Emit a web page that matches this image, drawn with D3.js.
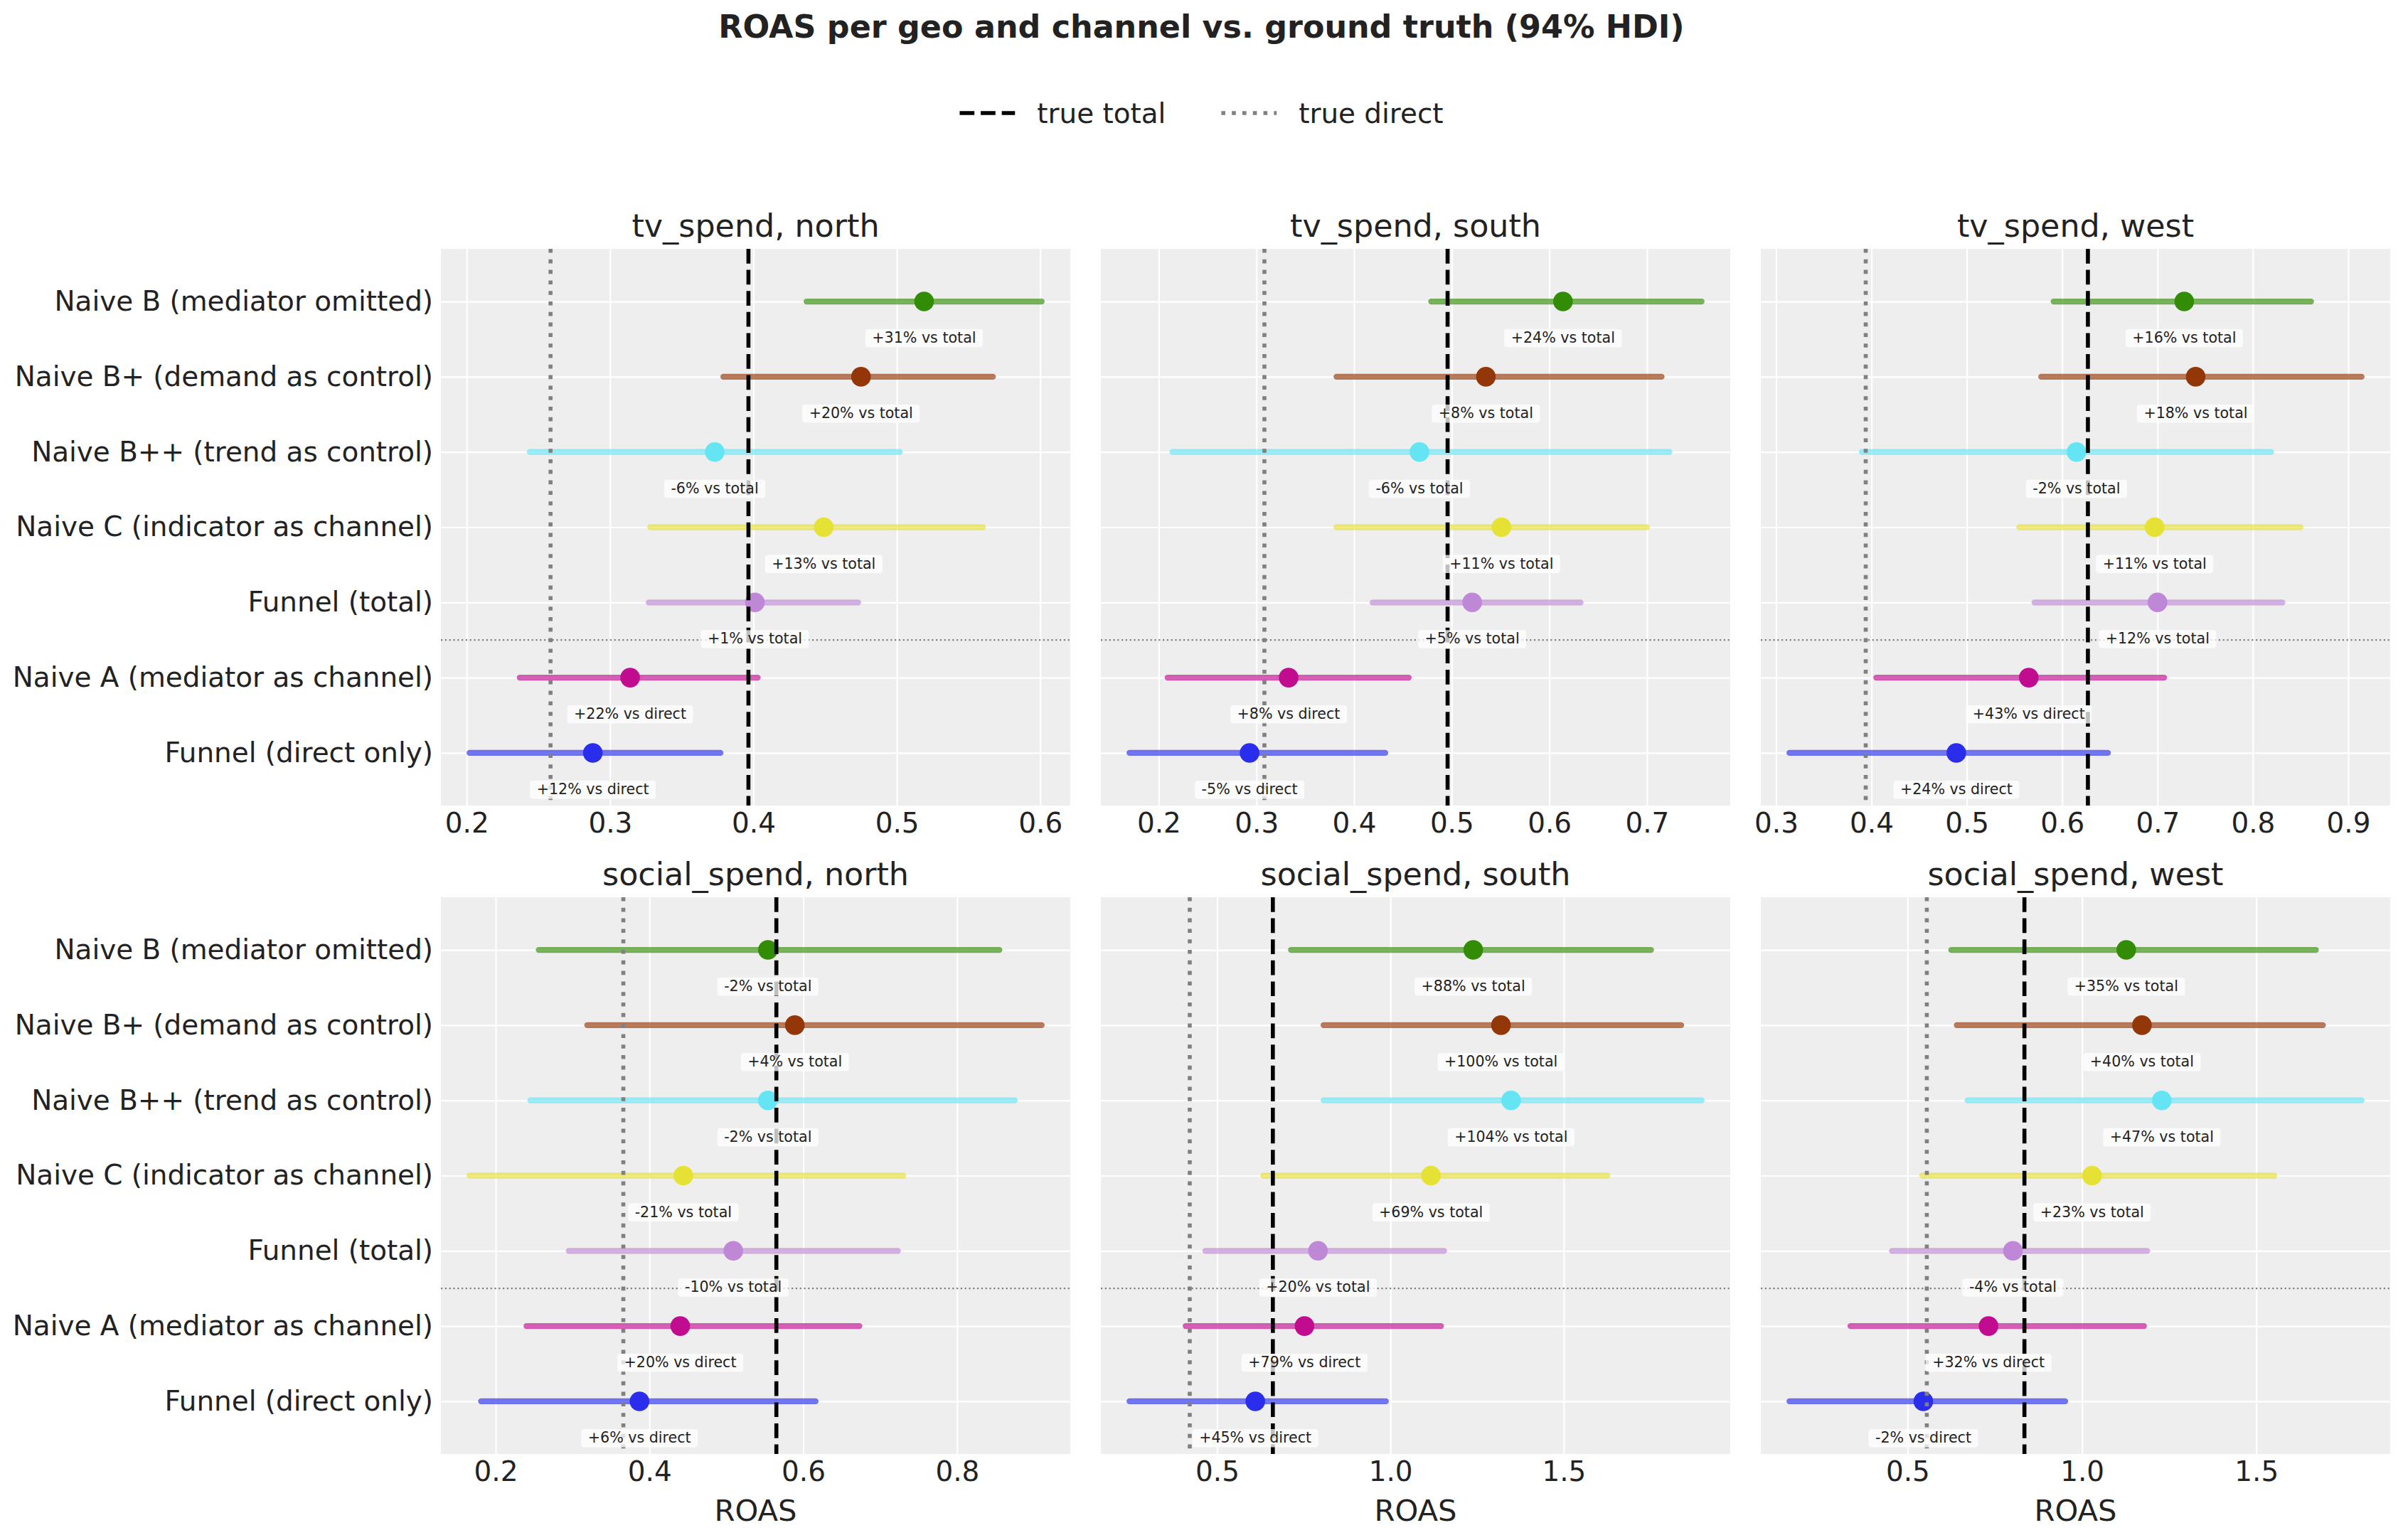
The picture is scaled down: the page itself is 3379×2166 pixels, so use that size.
<!DOCTYPE html>
<html>
<head>
<meta charset="utf-8">
<script src="https://cdn.jsdelivr.net/npm/d3@7"></script>
<style>
  body { margin: 0; background: #fff; }
  text { font-family: "DejaVu Sans", sans-serif; fill: #222; }
</style>
</head>
<body>
<script>
// --- data ---------------------------------------------------------------
const models = [
  "Naive B (mediator omitted)",
  "Naive B+ (demand as control)",
  "Naive B++ (trend as control)",
  "Naive C (indicator as channel)",
  "Funnel (total)",
  "Naive A (mediator as channel)",
  "Funnel (direct only)"
];
const modelColors = ["#328c06", "#933708", "#65e5f3", "#e6e135", "#bf88d6", "#c10c90", "#2a2eec"];

const channels = ["tv_spend", "social_spend"];
const geos = ["north", "south", "west"];

// one row per panel: tv north, tv south, tv west, social north, social south, social west
const roasMean = [
  [0.519, 0.475, 0.373, 0.449, 0.401, 0.314, 0.288],
  [0.614, 0.535, 0.467, 0.551, 0.521, 0.333, 0.293],
  [0.728, 0.740, 0.615, 0.697, 0.700, 0.565, 0.489],
  [0.554, 0.589, 0.554, 0.444, 0.509, 0.440, 0.387],
  [1.239, 1.319, 1.348, 1.117, 0.791, 0.752, 0.610],
  [1.127, 1.172, 1.229, 1.029, 0.802, 0.732, 0.545]
];
const hdiLow = [
  [0.437, 0.379, 0.244, 0.328, 0.327, 0.237, 0.202],
  [0.479, 0.382, 0.214, 0.382, 0.419, 0.209, 0.170],
  [0.591, 0.578, 0.390, 0.555, 0.571, 0.405, 0.314],
  [0.256, 0.319, 0.245, 0.166, 0.295, 0.240, 0.181],
  [0.713, 0.807, 0.807, 0.633, 0.466, 0.409, 0.247],
  [0.625, 0.641, 0.672, 0.542, 0.455, 0.336, 0.161]
];
const hdiHigh = [
  [0.601, 0.567, 0.502, 0.560, 0.473, 0.403, 0.377],
  [0.756, 0.715, 0.723, 0.700, 0.632, 0.456, 0.432],
  [0.861, 0.914, 0.819, 0.850, 0.831, 0.707, 0.648],
  [0.855, 0.910, 0.875, 0.730, 0.723, 0.673, 0.616],
  [1.752, 1.839, 1.898, 1.626, 1.155, 1.146, 0.987],
  [1.671, 1.691, 1.802, 1.552, 1.187, 1.178, 0.952]
];
const trueTotal = [0.3965, 0.4958, 0.627, 0.565, 0.6607, 0.835];
const trueDirect = [0.2585, 0.3082, 0.394, 0.366, 0.4209, 0.555];

const deltaLabels = [
  ["+31% vs total", "+20% vs total", "-6% vs total", "+13% vs total", "+1% vs total", "+22% vs direct", "+12% vs direct"],
  ["+24% vs total", "+8% vs total", "-6% vs total", "+11% vs total", "+5% vs total", "+8% vs direct", "-5% vs direct"],
  ["+16% vs total", "+18% vs total", "-2% vs total", "+11% vs total", "+12% vs total", "+43% vs direct", "+24% vs direct"],
  ["-2% vs total", "+4% vs total", "-2% vs total", "-21% vs total", "-10% vs total", "+20% vs direct", "+6% vs direct"],
  ["+88% vs total", "+100% vs total", "+104% vs total", "+69% vs total", "+20% vs total", "+79% vs direct", "+45% vs direct"],
  ["+35% vs total", "+40% vs total", "+47% vs total", "+23% vs total", "-4% vs total", "+32% vs direct", "-2% vs direct"]
];

const xTicks = [
  [0.2, 0.3, 0.4, 0.5, 0.6],
  [0.2, 0.3, 0.4, 0.5, 0.6, 0.7],
  [0.3, 0.4, 0.5, 0.6, 0.7, 0.8, 0.9],
  [0.2, 0.4, 0.6, 0.8],
  [0.5, 1.0, 1.5],
  [0.5, 1.0, 1.5]
];

// --- layout -------------------------------------------------------------
const W = 3379, H = 2166;
const marginLeft = 620, marginTop = 350;
const panelW = 885, panelH = 783;
const gapX = 43, gapY = 129;

const svg = d3.select("body").append("svg")
  .attr("width", W)
  .attr("height", H);

svg.append("rect").attr("width", W).attr("height", H).attr("fill", "#fff");

svg.append("text")
  .attr("x", W / 2)
  .attr("y", 53)
  .attr("text-anchor", "middle")
  .style("font-size", "44.4px")
  .style("font-weight", "bold")
  .text("ROAS per geo and channel vs. ground truth (94% HDI)");

// legend
let legend = svg.append("g");
let legendItems = [
  { label: "true total", stroke: "#000", dash: "20.7,8.9" },
  { label: "true direct", stroke: "#808080", dash: "5.6,9.2" }
];
let lx = 0;
legendItems.forEach((d, i) => {
  let item = legend.append("g").attr("transform", `translate(${lx},0)`);
  item.append("line")
    .attr("x1", 0).attr("x2", 77.8)
    .attr("y1", 0).attr("y2", 0)
    .attr("stroke", d.stroke)
    .attr("stroke-width", 5.6)
    .attr("stroke-dasharray", d.dash);
  let t = item.append("text")
    .attr("x", 77.8 + 31)
    .attr("y", 13.6)
    .style("font-size", "38.9px")
    .text(d.label);
  lx += 77.8 + 31 + t.node().getComputedTextLength() + 78;
});
lx -= 78;
legend.attr("transform", `translate(${W / 2 - lx / 2},159)`);

const y = d3.scaleLinear().domain([-0.7, 6.7]).range([0, panelH]);

channels.forEach((ch, r) => {
  geos.forEach((geo, c) => {
    const p = r * 3 + c;
    const x0 = marginLeft + c * (panelW + gapX);
    const y0 = marginTop + r * (panelH + gapY);
    const lo = d3.min(hdiLow[p]), hi = d3.max(hdiHigh[p]);
    const pad = (hi - lo) * 0.05;
    const x = d3.scaleLinear().domain([lo - pad, hi + pad]).range([0, panelW]);

    const g = svg.append("g").attr("transform", `translate(${x0},${y0})`);

    g.append("rect")
      .attr("width", panelW)
      .attr("height", panelH)
      .attr("fill", "#eeeeee");

    // x grid + tick labels
    const xa = g.append("g")
      .attr("transform", `translate(0,${panelH})`)
      .call(d3.axisBottom(x)
        .tickValues(xTicks[p])
        .tickSize(-panelH)
        .tickPadding(10)
        .tickFormat(d3.format(".1f")));
    xa.select(".domain").remove();
    xa.selectAll(".tick line").attr("stroke", "#fff").attr("stroke-width", 2.2);
    xa.selectAll(".tick text").style("font-size", "38.9px").attr("fill", "#222");

    // y grid + category labels
    const ya = g.append("g")
      .call(d3.axisLeft(y)
        .tickValues(d3.range(models.length))
        .tickSize(-panelW)
        .tickPadding(11)
        .tickFormat(i => c === 0 ? models[i] : ""));
    ya.select(".domain").remove();
    ya.selectAll(".tick line").attr("stroke", "#fff").attr("stroke-width", 2.2);
    ya.selectAll(".tick text").style("font-size", "38.9px").attr("fill", "#222");

    // separator between total and direct estimands
    g.append("line")
      .attr("x1", 0).attr("x2", panelW)
      .attr("y1", y(4.5)).attr("y2", y(4.5))
      .attr("stroke", "#808080")
      .attr("stroke-width", 2.2)
      .attr("stroke-dasharray", "2.2,3.6");

    const idx = d3.range(models.length);

    g.selectAll("line.hdi")
      .data(idx)
      .enter().append("line")
      .attr("class", "hdi")
      .attr("x1", i => x(hdiLow[p][i]))
      .attr("x2", i => x(hdiHigh[p][i]))
      .attr("y1", i => y(i))
      .attr("y2", i => y(i))
      .attr("stroke", i => modelColors[i])
      .attr("stroke-width", 8.3)
      .attr("stroke-linecap", "round")
      .attr("stroke-opacity", 0.65);

    g.selectAll("circle.est")
      .data(idx)
      .enter().append("circle")
      .attr("class", "est")
      .attr("cx", i => x(roasMean[p][i]))
      .attr("cy", i => y(i))
      .attr("r", 13.8)
      .attr("fill", i => modelColors[i]);

    g.append("line")
      .attr("x1", x(trueDirect[p])).attr("x2", x(trueDirect[p]))
      .attr("y1", 0).attr("y2", panelH)
      .attr("stroke", "#808080")
      .attr("stroke-width", 5.6)
      .attr("stroke-dasharray", "5.6,9.2");

    g.append("line")
      .attr("x1", x(trueTotal[p])).attr("x2", x(trueTotal[p]))
      .attr("y1", 0).attr("y2", panelH)
      .attr("stroke", "#000")
      .attr("stroke-width", 5.6)
      .attr("stroke-dasharray", "20.7,8.9");

    // annotations
    idx.forEach(i => {
      const ag = g.append("g");
      const box = ag.append("rect");
      const t = ag.append("text")
        .attr("x", x(roasMean[p][i]))
        .attr("y", y(i) + 58)
        .attr("text-anchor", "middle")
        .style("font-size", "20.6px")
        .text(deltaLabels[p][i]);
      const w = t.node().getComputedTextLength();
      box.attr("x", x(roasMean[p][i]) - w / 2 - 9.5)
        .attr("y", y(i) + 58 - 19)
        .attr("width", w + 19)
        .attr("height", 25.5)
        .attr("rx", 4)
        .attr("fill", "#fff")
        .attr("fill-opacity", 0.75);
    });

    g.append("text")
      .attr("x", panelW / 2)
      .attr("y", -17)
      .attr("text-anchor", "middle")
      .style("font-size", "44.4px")
      .text(`${ch}, ${geo}`);

    if (r === channels.length - 1) {
      g.append("text")
        .attr("x", panelW / 2)
        .attr("y", panelH + 94)
        .attr("text-anchor", "middle")
        .style("font-size", "41.7px")
        .text("ROAS");
    }
  });
});
</script>
</body>
</html>
